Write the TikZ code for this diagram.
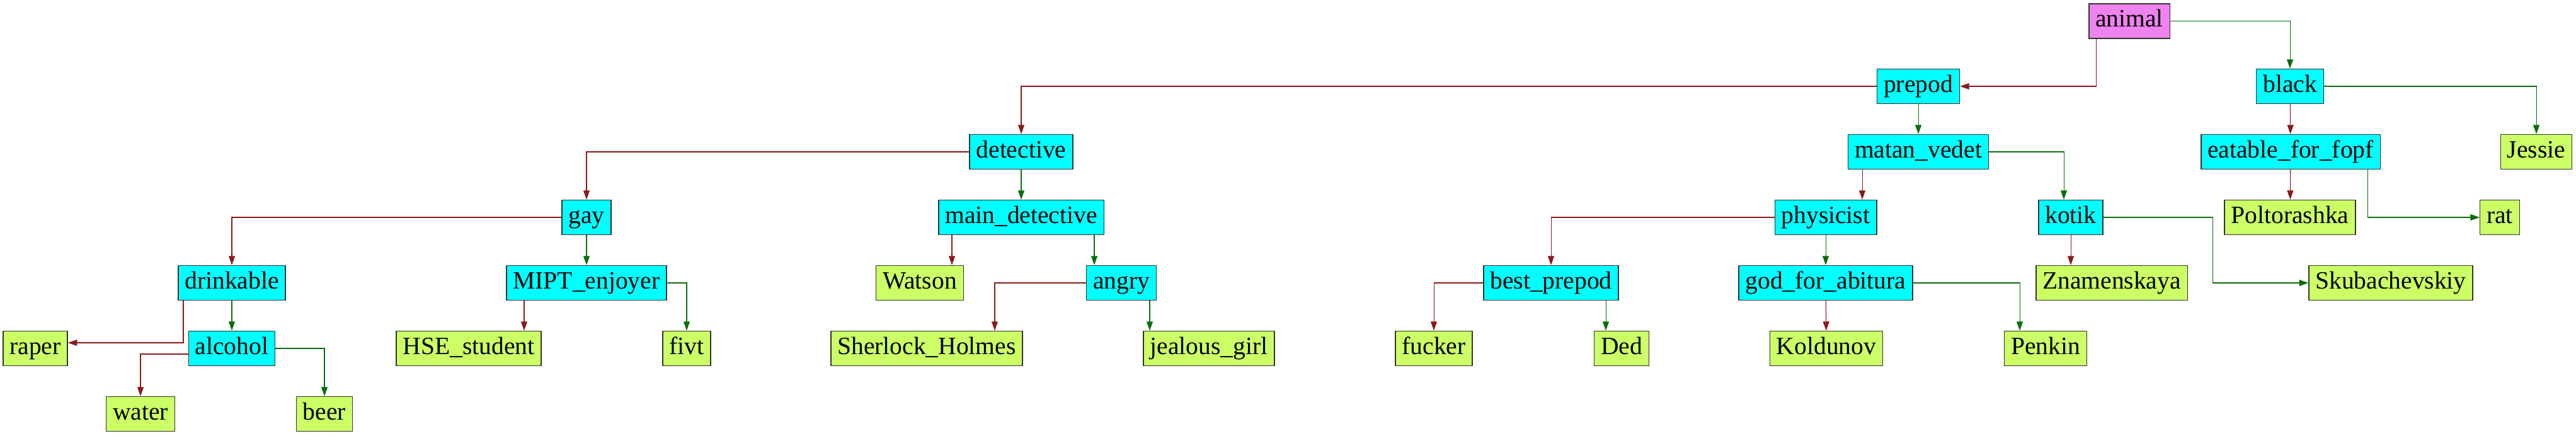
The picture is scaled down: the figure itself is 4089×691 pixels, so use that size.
\documentclass[tikz,border=0pt]{standalone}
\usepackage{fontspec}
\setmainfont{Liberation Serif}
\usepackage{tikz}
\usetikzlibrary{arrows.meta, calc}

\definecolor{nocol}{HTML}{8B1A1A}
\definecolor{yescol}{HTML}{0A6E0A}
\definecolor{qfill}{HTML}{00FFFF}
\definecolor{leaffill}{HTML}{CCFF66}
\definecolor{rootfill}{HTML}{EE82EE}

\begin{document}
\begin{tikzpicture}[
    x=0.02cm, y=-0.02cm,
    box/.style={draw=black!80, line width=0.85pt, rectangle, minimum height=1.1cm, inner xsep=0.21cm, inner ysep=0pt,
        font=\fontsize{22.5pt}{27pt}\selectfont, text height=15.3pt, text depth=4.9pt},
    root/.style={box, fill=rootfill},
    quest/.style={box, fill=qfill},
    leaf/.style={box, fill=leaffill},
    no/.style={-{Triangle[length=0.29cm, width=0.2cm]}, nocol, line width=0.6pt},
    yes/.style={-{Triangle[length=0.29cm, width=0.2cm]}, yescol, line width=0.6pt}
]
\useasboundingbox (0,0) rectangle (4089,691);

% Nodes
\node[root] (animal) at (3380,33.5) {animal};
\node[quest] (prepod) at (3045,137) {prepod};
\node[quest] (black) at (3635,137) {black};
\node[quest] (detective) at (1621,241) {detective};
\node[quest] (matan) at (3045,241) {matan\_vedet};
\node[quest] (eatable) at (3636,241) {eatable\_for\_fopf};
\node[leaf] (jessie) at (4026,241) {Jessie};
\node[quest] (gay) at (931,345) {gay};
\node[quest] (maindet) at (1621,345) {main\_detective};
\node[quest] (physicist) at (2898,345) {physicist};
\node[quest] (kotik) at (3287,345) {kotik};
\node[leaf] (poltorashka) at (3635,345) {Poltorashka};
\node[leaf] (rat) at (3968,345) {rat};
\node[quest] (drinkable) at (368,449) {drinkable};
\node[quest] (mipt) at (931,449) {MIPT\_enjoyer};
\node[leaf] (watson) at (1460,449) {Watson};
\node[quest] (angry) at (1780,449) {angry};
\node[quest] (bestprepod) at (2462,449) {best\_prepod};
\node[quest] (god) at (2898,449) {god\_for\_abitura};
\node[leaf] (znam) at (3352,449) {Znamenskaya};
\node[leaf] (skub) at (3795,449) {Skubachevskiy};
\node[leaf] (raper) at (56,553) {raper};
\node[quest] (alcohol) at (368,553) {alcohol};
\node[leaf] (hse) at (744,553) {HSE\_student};
\node[leaf] (fivt) at (1090,553) {fivt};
\node[leaf] (sherlock) at (1471,553) {Sherlock\_Holmes};
\node[leaf] (jealous) at (1919,553) {jealous\_girl};
\node[leaf] (fucker) at (2276,553) {fucker};
\node[leaf] (ded) at (2574,553) {Ded};
\node[leaf] (koldunov) at (2899,553) {Koldunov};
\node[leaf] (penkin) at (3247,553) {Penkin};
\node[leaf] (water) at (223,657) {water};
\node[leaf] (beer) at (515,657) {beer};

% Arrows
\draw[no] ($(animal.south)+(-53,0)$) |- (prepod.east);
\draw[yes] (animal.east) -| (black.north);
\draw[no] (prepod.west) -| (detective.north);
\draw[yes] (prepod) -- (matan);
\draw[no] (black) -- (eatable);
\draw[yes] (black.east) -| (jessie.north);
\draw[no] (detective.west) -| (gay.north);
\draw[yes] (detective) -- (maindet);
\draw[no] ($(matan.south)+(-89,0)$) -- ($(physicist.north)+(58,0)$);
\draw[yes] (matan.east) -| ($(kotik.north)+(-11,0)$);
\draw[no] (eatable) -- (poltorashka);
\draw[yes] ($(eatable.south)+(122,0)$) |- (rat.west);
\draw[no] (gay.west) -| (drinkable.north);
\draw[yes] (gay) -- (mipt);
\draw[no] ($(maindet.south)+(-110,0)$) -- ($(watson.north)+(51,0)$);
\draw[yes] ($(maindet.south)+(116,0)$) -- ($(angry.north)+(-43,0)$);
\draw[no] (physicist.west) -| (bestprepod.north);
\draw[yes] (physicist) -- (god);
\draw[no] (kotik.south) -- ($(znam.north)+(-65,0)$);
\draw[yes] (kotik.east) -| ($(skub.west)+(-152,0)$) -- (skub.west);
\draw[no] ($(drinkable.south)+(-77,0)$) |- ($(raper.east)+(0,-9)$);
\draw[yes] (drinkable) -- (alcohol);
\draw[no] ($(mipt.south)+(-99,0)$) -- ($(hse.north)+(88,0)$);
\draw[yes] (mipt.east) -| (fivt.north);
\draw[no] (angry.west) -| ($(sherlock.north)+(108,0)$);
\draw[yes] ($(angry.south)+(45,0)$) -- ($(jealous.north)+(-94,0)$);
\draw[no] (bestprepod.west) -| (fucker.north);
\draw[yes] ($(bestprepod.south)+(87,0)$) -- ($(ded.north)+(-25,0)$);
\draw[no] (god) -- (koldunov);
\draw[yes] (god.east) -| ($(penkin.north)+(-41,0)$);
\draw[no] ($(alcohol.west)+(0,9)$) -| (water.north);
\draw[yes] (alcohol.east) -| (beer.north);

\end{tikzpicture}
\end{document}
